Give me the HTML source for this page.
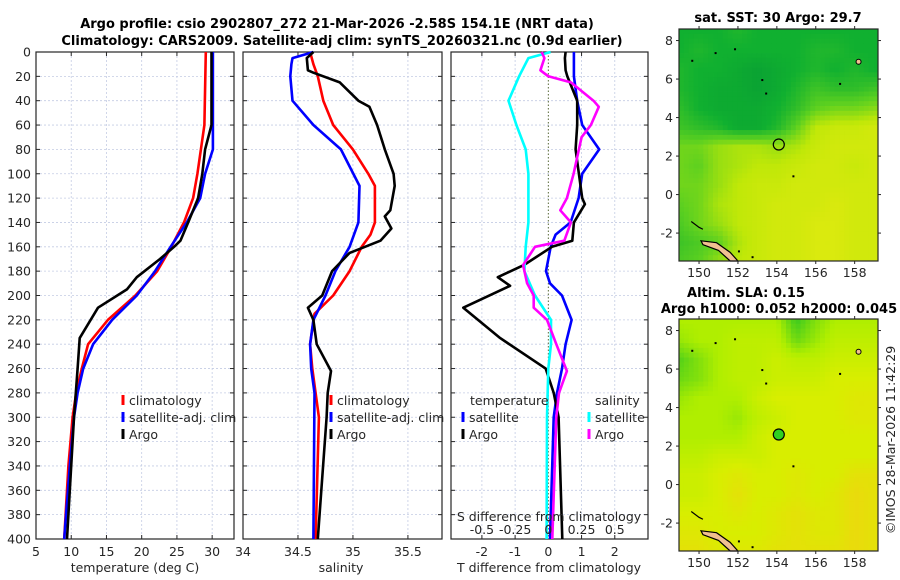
<!DOCTYPE html>
<html><head><meta charset="utf-8">
<style>
html,body{margin:0;padding:0;background:#fff;}
svg{display:block;font-family:"DejaVu Sans","Liberation Sans",sans-serif;}
.t{font-size:12.5px;fill:#262626;}
.b{font-size:13px;font-weight:bold;fill:#000;}
</style></head>
<body>
<svg id="chart" width="900" height="580" viewBox="0 0 900 580" xmlns="http://www.w3.org/2000/svg">
<text class="b" x="337" y="28" text-anchor="middle">Argo profile: csio 2902807_272 21-Mar-2026 -2.58S 154.1E (NRT data)</text>
<text class="b" x="342" y="45" text-anchor="middle">Climatology: CARS2009. Satellite-adj clim: synTS_20260321.nc (0.9d earlier)</text>
<text class="b" x="778" y="22" text-anchor="middle">sat. SST: 30 Argo: 29.7</text>
<text class="b" x="746" y="297" text-anchor="middle">Altim. SLA: 0.15</text>
<text class="b" x="779" y="313" text-anchor="middle">Argo h1000: 0.052 h2000: 0.045</text>
<text class="t" transform="translate(895,440) rotate(-90)" text-anchor="middle">©IMOS 28-Mar-2026 11:42:29</text>
<g id="g"></g>
</svg>
<script>
// ---- data: temperature panel ----
const depthTempClim=[0,60,100,120,140,160,180,200,220,240,260,280,300,340,400];
const tempClim=[29.1,28.9,27.9,27.3,26.0,24.2,22.2,19.1,15.2,12.4,11.5,10.7,10.2,9.6,9.0];
const depthTempSat=[0,80,100,120,140,160,180,200,220,240,260,280,300,340,400];
const tempSat=[30.1,30.1,29.0,28.3,26.4,24.1,21.9,19.3,15.8,13.1,11.7,10.9,10.4,9.8,9.0];
const depthTempArgo=[0,60,80,100,120,140,155,160,170,185,195,210,235,260,300,400];
const tempArgo=[29.9,29.9,29.0,28.6,28.0,26.6,25.5,24.6,22.6,19.3,17.9,13.8,11.2,10.9,10.4,9.4];
// ---- data: salinity panel ----
const depthSalClim=[0,10,20,40,60,80,100,110,140,150,160,180,200,215,240,260,280,300,400];
const salClim=[34.61,34.64,34.68,34.73,34.82,35.0,35.14,35.2,35.2,35.16,35.08,34.97,34.82,34.65,34.61,34.63,34.66,34.69,34.66];
const depthSalSat=[0,5,10,20,40,60,80,110,140,160,180,200,220,240,260,280,400];
const salSat=[34.64,34.45,34.44,34.43,34.45,34.64,34.89,35.06,35.05,34.97,34.84,34.75,34.64,34.61,34.62,34.65,34.64];
const depthSalArgo=[0,5,15,17,25,40,45,60,80,100,110,130,135,145,155,165,180,200,210,220,240,262,280,300,400];
const salArgo=[34.64,34.58,34.59,34.64,34.88,35.05,35.15,35.22,35.29,35.37,35.38,35.34,35.29,35.35,35.25,34.97,34.81,34.72,34.59,34.64,34.67,34.8,34.77,34.76,34.68];
// ---- data: difference panel ----
const depthDTSat=[0,20,40,60,80,100,120,140,150,160,180,190,200,220,240,260,280,300,400];
const dTSat=[0.77,0.77,0.87,1.02,1.53,1.02,0.91,0.67,0.22,0.07,-0.07,0.05,0.41,0.70,0.52,0.41,0.26,0.16,0.05];
const depthDTArgo=[0,5,15,20,40,60,80,100,120,125,140,155,160,175,185,192,210,235,260,280,300,400];
const dTArgo=[0.52,0.50,0.52,0.57,0.87,0.87,0.82,0.92,1.02,1.10,0.77,0.72,0.11,-0.74,-1.52,-1.15,-2.56,-1.45,-0.08,0.16,0.31,0.42];
const depthDSSat=[0,5,20,40,60,80,100,140,160,180,200,220,240,260,300,400];
const dSSat=[0.017,-0.15,-0.22,-0.30,-0.24,-0.17,-0.15,-0.15,-0.17,-0.18,-0.10,0.02,0.02,0.0,-0.01,-0.013];
const depthDSArgo=[0,5,15,20,25,40,45,60,70,80,100,120,130,140,155,160,175,190,200,210,220,240,262,280,300,400];
const dSArgo=[-0.05,-0.03,-0.06,0.0,0.17,0.34,0.38,0.32,0.25,0.23,0.19,0.14,0.09,0.17,0.12,-0.10,-0.19,-0.16,-0.11,-0.11,-0.01,0.06,0.14,0.08,0.06,0.03];
// ---- tick labels ----
const depthTicks=[0,20,40,60,80,100,120,140,160,180,200,220,240,260,280,300,320,340,360,380,400];
const tempTicks=[5,10,15,20,25,30];
const salTicks=[34,34.5,35,35.5];
const dTTicks=[-2,-1,0,1,2];
const dSTicks=[-0.5,-0.25,0,0.25,0.5];
const dSTickLabels=["-0.5","-0.25","0","0.25","0.5"];
const lonTicks=[150,152,154,156,158];
const latTicks=[-2,0,2,4,6,8];
// ---- map data (coarse 1-degree grids, rows lat 8.5 .. -3.5, cols lon 149..159) ----
const gridLats=[8.5,7.5,6.5,5.5,4.5,3.5,2.5,1.5,0.5,-0.5,-1.5,-2.5,-3.5];
const gridLons=[149,150,151,152,153,154,155,156,157,158,159];
const sstGrid=[
[0.3,0.3,0.3,0.35,0.3,0.3,0.3,0.3,0.3,0.3,0.3],
[0.3,0.35,0.3,0.3,0.3,0.3,0.3,0.35,0.35,0.3,0.3],
[0.35,0.3,0.3,0.25,0.2,0.25,0.3,0.35,0.3,0.35,0.3],
[0.35,0.3,0.25,0.25,0.2,0.25,0.35,0.45,0.4,0.4,0.45],
[0.4,0.3,0.25,0.25,0.25,0.3,0.4,0.55,0.6,0.6,0.65],
[0.45,0.4,0.35,0.25,0.25,0.35,0.55,0.8,0.85,0.85,0.9],
[0.6,0.6,0.7,0.75,0.75,0.7,0.75,0.85,0.9,0.9,0.9],
[0.6,0.55,0.7,0.75,0.8,0.8,0.85,0.9,0.9,0.85,0.9],
[0.6,0.6,0.7,0.8,0.85,0.85,0.9,0.9,0.9,0.9,0.9],
[0.55,0.6,0.75,0.8,0.85,0.9,0.9,0.9,0.95,0.9,0.9],
[0.5,0.6,0.7,0.8,0.85,0.9,0.9,0.95,0.95,0.9,0.9],
[0.45,0.5,0.55,0.75,0.85,0.9,0.9,0.95,0.95,0.9,0.9],
[0.5,0.55,0.7,0.8,0.85,0.9,0.9,0.95,0.95,0.9,0.9]];
const slaGrid=[
[0.45,0.45,0.45,0.45,0.45,0.45,0.2,0.35,0.45,0.45,0.45],
[0.4,0.45,0.45,0.5,0.5,0.5,0.3,0.4,0.5,0.5,0.5],
[0.25,0.35,0.45,0.5,0.5,0.55,0.5,0.5,0.55,0.55,0.55],
[0.3,0.35,0.45,0.5,0.5,0.55,0.55,0.55,0.6,0.6,0.6],
[0.4,0.45,0.45,0.45,0.55,0.6,0.6,0.6,0.6,0.65,0.65],
[0.45,0.45,0.45,0.4,0.5,0.55,0.6,0.6,0.6,0.65,0.65],
[0.45,0.45,0.45,0.45,0.55,0.6,0.6,0.6,0.6,0.6,0.6],
[0.5,0.5,0.55,0.55,0.55,0.6,0.6,0.6,0.6,0.6,0.6],
[0.55,0.55,0.6,0.65,0.6,0.6,0.65,0.6,0.6,0.7,0.7],
[0.55,0.55,0.6,0.7,0.6,0.6,0.65,0.6,0.65,0.75,0.7],
[0.6,0.6,0.6,0.65,0.6,0.65,0.7,0.65,0.65,0.75,0.7],
[0.65,0.65,0.6,0.6,0.6,0.65,0.7,0.65,0.65,0.75,0.7],
[0.7,0.7,0.65,0.65,0.65,0.7,0.7,0.7,0.7,0.75,0.7]];
const argoLon=154.1, argoLat=2.6;

const NS="http://www.w3.org/2000/svg";
const root=document.getElementById('g');
function el(tag,attrs,parent,txt){const e=document.createElementNS(NS,tag);for(const k in attrs)e.setAttribute(k,attrs[k]);if(txt!==undefined)e.textContent=txt;(parent||root).appendChild(e);return e;}

const Y0=52,Y1=539;
const yD=d=>Y0+d*(Y1-Y0)/400;
function lin(d0,d1,r0,r1){return v=>r0+(v-d0)*(r1-r0)/(d1-d0);}

function panel(name,x0,x1,xs,gridVals,showY){
  const g=el('g',{});
  
  
  depthTicks.forEach(d=>{
    const l=el('line',{x1:x0,x2:x1,y1:yD(d),y2:yD(d),stroke:'#c4cce4','stroke-width':0.8,'stroke-dasharray':'2,2'},g);
    
    
    el('line',{x1:x0,x2:x0+4,y1:yD(d),y2:yD(d),stroke:'#262626'},g);
    el('line',{x1:x1-4,x2:x1,y1:yD(d),y2:yD(d),stroke:'#262626'},g);
    if(showY){const t=el('text',{class:'t',x:x0-5,y:yD(d)+4.5,'text-anchor':'end'},g,String(d));
      
      }
  });
  gridVals.forEach(v=>{
    const x=xs(v);
    const l=el('line',{x1:x,x2:x,y1:Y0,y2:Y1,stroke:'#c4cce4','stroke-width':0.8,'stroke-dasharray':'2,2'},g);
    
    
    el('line',{x1:x,x2:x,y1:Y1,y2:Y1-4,stroke:'#262626'},g);
    el('line',{x1:x,x2:x,y1:Y0,y2:Y0+4,stroke:'#262626'},g);
  });
  const r=el('rect',{x:x0,y:Y0,width:x1-x0,height:Y1-Y0,fill:'none',stroke:'#262626','stroke-width':1.2},g);
  
  
  return g;
}
function series(g,name,xs,depths,vals,color){
  const pts=vals.map((v,i)=>xs(v).toFixed(1)+','+yD(depths[i]).toFixed(1)).join(' ');
  const p=el('polyline',{points:pts,fill:'none',stroke:color,'stroke-width':2.6,'stroke-linejoin':'round'},g);
  
  
}
function legendEntry(g,x,y,color,label,name){
  el('line',{x1:x,x2:x,y1:y-10,y2:y,stroke:color,'stroke-width':3},g);
  const t=el('text',{class:'t',x:x+6,y:y},g,label);
  
  
}

// Panel 1: temperature
const xT=lin(5,33.1,36,234);
const p1=panel('temperature',36,234,xT,[10,15,20,25,30],true);
tempTicks.forEach(v=>{const t=el('text',{class:'t',x:xT(v),y:556,'text-anchor':'middle'},p1,String(v));
  
  });
let at=el('text',{class:'t',x:135,y:572,'text-anchor':'middle'},p1,'temperature (deg C)');


series(p1,'temperature-climatology-line',xT,depthTempClim,tempClim,'#ff0000');
series(p1,'temperature-satellite-line',xT,depthTempSat,tempSat,'#0000ff');
series(p1,'temperature-argo-line',xT,depthTempArgo,tempArgo,'#000000');
legendEntry(p1,123,405,'#ff0000','climatology','legend-climatology');
legendEntry(p1,123,422,'#0000ff','satellite-adj. clim','legend-satellite-adj');
legendEntry(p1,123,439,'#000000','Argo','legend-argo');

// Panel 2: salinity
const xS=lin(34,35.81,243,442);
const p2=panel('salinity',243,442,xS,[34.5,35,35.5],false);
salTicks.forEach(v=>{const t=el('text',{class:'t',x:xS(v),y:556,'text-anchor':'middle'},p2,String(v));
  
  });
at=el('text',{class:'t',x:341,y:572,'text-anchor':'middle'},p2,'salinity');


series(p2,'salinity-climatology-line',xS,depthSalClim,salClim,'#ff0000');
series(p2,'salinity-satellite-line',xS,depthSalSat,salSat,'#0000ff');
series(p2,'salinity-argo-line',xS,depthSalArgo,salArgo,'#000000');
legendEntry(p2,331,405,'#ff0000','climatology','legend-climatology');
legendEntry(p2,331,422,'#0000ff','satellite-adj. clim','legend-satellite-adj');
legendEntry(p2,331,439,'#000000','Argo','legend-argo');

// Panel 3: differences
const xDT=lin(-2.93,3.0,451,648);
const xDS=v=>xDT(v*4);
const p3=panel('difference',451,648,xDT,[-2,-1,1,2],false);
const z=el('line',{x1:xDT(0),x2:xDT(0),y1:Y0,y2:Y1,stroke:'#5a6a3a','stroke-width':1,'stroke-dasharray':'1.5,2'},p3);


series(p3,'temp-diff-satellite-line',xDT,depthDTSat,dTSat,'#0000ff');
series(p3,'temp-diff-argo-line',xDT,depthDTArgo,dTArgo,'#000000');
series(p3,'sal-diff-satellite-line',xDS,depthDSSat,dSSat,'#00ffff');
series(p3,'sal-diff-argo-line',xDS,depthDSArgo,dSArgo,'#ff00ff');
dTTicks.forEach(v=>{const t=el('text',{class:'t',x:xDT(v),y:556,'text-anchor':'middle'},p3,String(v));
  
  });
dSTicks.forEach((v,i)=>{const t=el('text',{class:'t',x:xDS(v),y:534,'text-anchor':'middle'},p3,dSTickLabels[i]);
  
  });
at=el('text',{class:'t',x:549,y:521,'text-anchor':'middle'},p3,'S difference from climatology');


at=el('text',{class:'t',x:549,y:572,'text-anchor':'middle'},p3,'T difference from climatology');


at=el('text',{class:'t',x:470,y:405},p3,'temperature');


at=el('text',{class:'t',x:595,y:405},p3,'salinity');


legendEntry(p3,463,422,'#0000ff','satellite','legend-temp-satellite');
legendEntry(p3,463,439,'#000000','Argo','legend-temp-argo');
legendEntry(p3,589,422,'#00ffff','satellite','legend-sal-satellite');
legendEntry(p3,589,439,'#ff00ff','Argo','legend-sal-argo');

// ---- maps ----
function hex(c){return [parseInt(c.slice(1,3),16),parseInt(c.slice(3,5),16),parseInt(c.slice(5,7),16)];}
function cmap(stops,v){
  for(let i=0;i<stops.length-1;i++){const [a,ca]=stops[i],[b,cb]=stops[i+1];
    if(v<=b||i==stops.length-2){const t=Math.max(0,Math.min(1,(v-a)/(b-a)));const A=hex(ca),B=hex(cb);
      return 'rgb('+A.map((x,k)=>Math.round(x+(B[k]-x)*t)).join(',')+')';}}
}
const sstStops=[[0,'#008a38'],[0.3,'#10b030'],[0.55,'#5cd020'],[0.8,'#c0e808'],[1,'#e2ea10']];
const slaStops=[[0.15,'#28c424'],[0.45,'#b0ee00'],[0.6,'#d8ee00'],[0.8,'#f0d410']];
function sample(grid,lat,lon){
  let r=(8.5-lat),c=(lon-149);r=Math.max(0,Math.min(12,r));c=Math.max(0,Math.min(10,c));
  const r0=Math.floor(r),c0=Math.floor(c),r1=Math.min(12,r0+1),c1=Math.min(10,c0+1),fr=r-r0,fc=c-c0;
  return grid[r0][c0]*(1-fr)*(1-fc)+grid[r0][c1]*(1-fr)*fc+grid[r1][c0]*fr*(1-fc)+grid[r1][c1]*fr*fc;
}
function map(name,yTop,yBot,grid,stops,filled){
  const x0=679,x1=878;
  const xl=lin(148.97,159.2,x0,x1), yl=lin(8.6,-3.45,yTop,yBot);
  const g=el('g',{});
  
  
  const step=0.25;
  for(let lat=8.6;lat>-3.45;lat-=step){
    for(let lon=148.97;lon<159.2;lon+=step){
      const v=sample(grid,lat-step/2,lon+step/2);
      el('rect',{x:xl(lon).toFixed(2),y:yl(lat).toFixed(2),width:(xl(Math.min(lon+step,159.2))-xl(lon)+0.4).toFixed(2),height:(Math.min(yl(lat-step),yBot)-yl(lat)+0.4).toFixed(2),fill:cmap(stops,v)},g);
    }
  }
  el('path',{d:`M${xl(150.1)},${yl(-2.4)} L${xl(150.9)},${yl(-2.5)} L${xl(151.6)},${yl(-3.0)} L${xl(152.0)},${yl(-3.45)} L${xl(151.6)},${yl(-3.45)} L${xl(151.0)},${yl(-2.9)} L${xl(150.2)},${yl(-2.6)} Z`,fill:'#f0c090',stroke:'#000','stroke-width':1.2},g);
  el('path',{d:`M${xl(149.6)},${yl(-1.4)} L${xl(150.0)},${yl(-1.7)} L${xl(150.2)},${yl(-1.8)}`,fill:'none',stroke:'#000','stroke-width':1.2},g);
  el('circle',{cx:xl(158.2),cy:yl(6.9),r:2.5,fill:'#f0c090',stroke:'#000','stroke-width':1},g);
  [[151.8,7.6],[150.8,7.4],[153.2,6.0],[153.4,5.3],[154.8,1.0],[152.0,-2.9],[152.7,-3.2],[149.6,7.0],[157.2,5.8]].forEach(p=>{
    el('rect',{x:xl(p[0]),y:yl(p[1]),width:2,height:2,fill:'#000'},g);});
  const c=el('circle',{cx:xl(argoLon),cy:yl(argoLat),r:5.5,fill:filled?'#30d020':'none',stroke:'#000','stroke-width':1.2},g);
  
  
  el('rect',{x:x0,y:yTop,width:x1-x0,height:yBot-yTop,fill:'none',stroke:'#262626','stroke-width':1.2},g);
  lonTicks.forEach(v=>{
    el('line',{x1:xl(v),x2:xl(v),y1:yBot,y2:yBot+3,stroke:'#262626'},g);
    el('line',{x1:xl(v),x2:xl(v),y1:yTop,y2:yTop-3,stroke:'#262626'},g);
    const t=el('text',{class:'t',x:xl(v),y:yBot+16,'text-anchor':'middle'},g,String(v));
    
    
  });
  latTicks.forEach(v=>{
    el('line',{x1:x0,x2:x0-3,y1:yl(v),y2:yl(v),stroke:'#262626'},g);
    el('line',{x1:x1,x2:x1+3,y1:yl(v),y2:yl(v),stroke:'#262626'},g);
    const t=el('text',{class:'t',x:x0-6,y:yl(v)+4.5,'text-anchor':'end'},g,String(v));
    
    
  });
}
map('sst-map',29,261,sstGrid,sstStops,false);
map('sla-map',319,551,slaGrid,slaStops,true);
</script>
</body></html>
